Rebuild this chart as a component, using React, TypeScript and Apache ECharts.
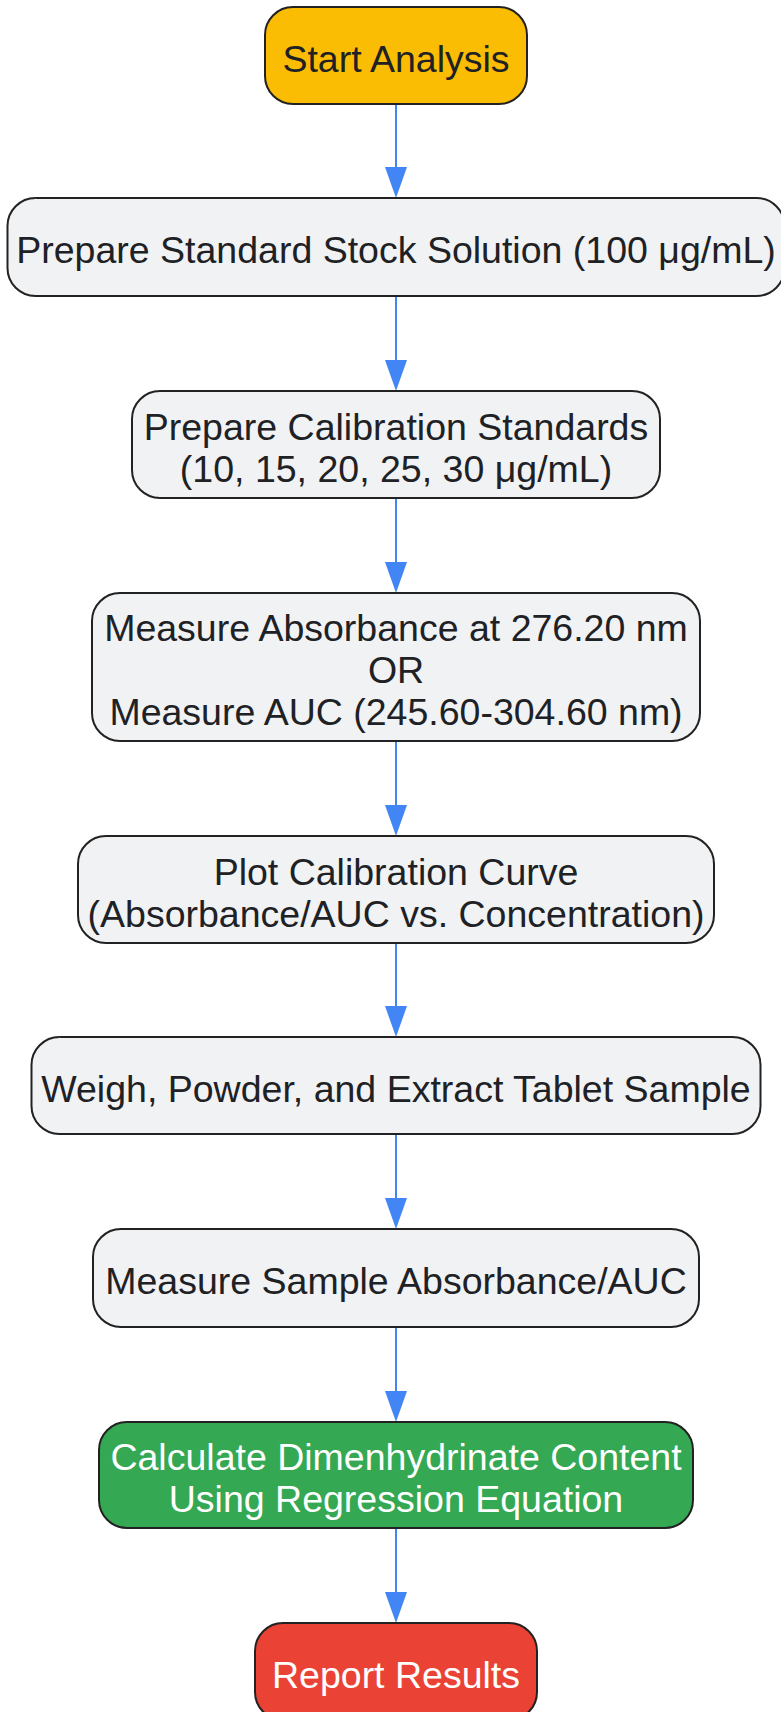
import React, { useEffect, useRef } from "react";
import * as echarts from "echarts";

// ---- content ----
const stepLabels: string[] = [
  "Start Analysis",
  "Prepare Standard Stock Solution (100 μg/mL)",
  "Prepare Calibration Standards\n(10, 15, 20, 25, 30 μg/mL)",
  "Measure Absorbance at 276.20 nm\nOR\nMeasure AUC (245.60-304.60 nm)",
  "Plot Calibration Curve\n(Absorbance/AUC vs. Concentration)",
  "Weigh, Powder, and Extract Tablet Sample",
  "Measure Sample Absorbance/AUC",
  "Calculate Dimenhydrinate Content\nUsing Regression Equation",
  "Report Results",
];
const stepFills: string[] = [
  "#FBBC04", "#F1F2F4", "#F1F2F4", "#F1F2F4", "#F1F2F4",
  "#F1F2F4", "#F1F2F4", "#34A853", "#EA4335",
];
const stepTextColors: string[] = [
  "#202124", "#202124", "#202124", "#202124", "#202124",
  "#202124", "#202124", "#FFFFFF", "#FFFFFF",
];
// edges: from -> to (sequential flow)
const edgeFrom: number[] = [0, 1, 2, 3, 4, 5, 6, 7];
const edgeTo: number[] = [1, 2, 3, 4, 5, 6, 7, 8];

// ---- layout (page pixel space; the chart div covers the whole page) ----
const centerX = 396;
const nodeTops: number[] = [7, 198, 391, 593, 836, 1037, 1229, 1422, 1623];
const nodeHeights: number[] = [97, 98, 107, 148, 107, 97, 98, 106, 97];
const nodeWidths: number[] = [262, 777, 528, 608, 636, 729, 606, 594, 282];

const FONT_SIZE = 37.5;
const LINE_HEIGHT = 42;
const TEXT_DY = 3;
const RADIUS = 28;
const EDGE_COLOR = "#4285F4";
const STROKE = "#222222";
const HEAD_W = 22;
const HEAD_L = 31;

function buildGraphics() {
  const els: any[] = [];
  for (let k = 0; k < edgeFrom.length; k++) {
    const a = edgeFrom[k];
    const b = edgeTo[k];
    const y1 = nodeTops[a] + nodeHeights[a];
    const y2 = nodeTops[b];
    els.push({
      type: "line",
      shape: { x1: centerX, y1: y1, x2: centerX, y2: y2 - HEAD_L + 2 },
      style: { stroke: EDGE_COLOR, lineWidth: 2 },
      z: 1,
    });
    els.push({
      type: "polygon",
      shape: {
        points: [
          [centerX - HEAD_W / 2, y2 - HEAD_L],
          [centerX + HEAD_W / 2, y2 - HEAD_L],
          [centerX, y2],
        ],
      },
      style: { fill: EDGE_COLOR },
      z: 1,
    });
  }
  for (let i = 0; i < stepLabels.length; i++) {
    const w = nodeWidths[i];
    const h = nodeHeights[i];
    const x = centerX - w / 2;
    const y = nodeTops[i];
    els.push({
      type: "rect",
      shape: { x, y, width: w, height: h, r: RADIUS },
      style: { fill: stepFills[i], stroke: STROKE, lineWidth: 2 },
      z: 2,
    });
    els.push({
      type: "text",
      x: centerX,
      y: y + h / 2 + TEXT_DY,
      style: {
        text: stepLabels[i],
        fill: stepTextColors[i],
        fontSize: FONT_SIZE,
        fontFamily: "'Liberation Sans', Arial, sans-serif",
        lineHeight: LINE_HEIGHT,
        align: "center",
        verticalAlign: "middle",
      },
      z: 3,
    });
  }
  return els;
}

export default function App() {
  const ref = useRef<HTMLDivElement>(null);
  useEffect(() => {
    if (!ref.current) return;
    const chart = echarts.init(ref.current, null, { renderer: "svg" });
    chart.setOption({
      animation: false,
      backgroundColor: "#FFFFFF",
      graphic: { elements: buildGraphics() },
    });
    return () => chart.dispose();
  }, []);
  return (
    <div
      ref={ref}
      style={{ position: "absolute", left: 0, top: 0, width: 781, height: 1712, overflow: "hidden" }}
    />
  );
}
